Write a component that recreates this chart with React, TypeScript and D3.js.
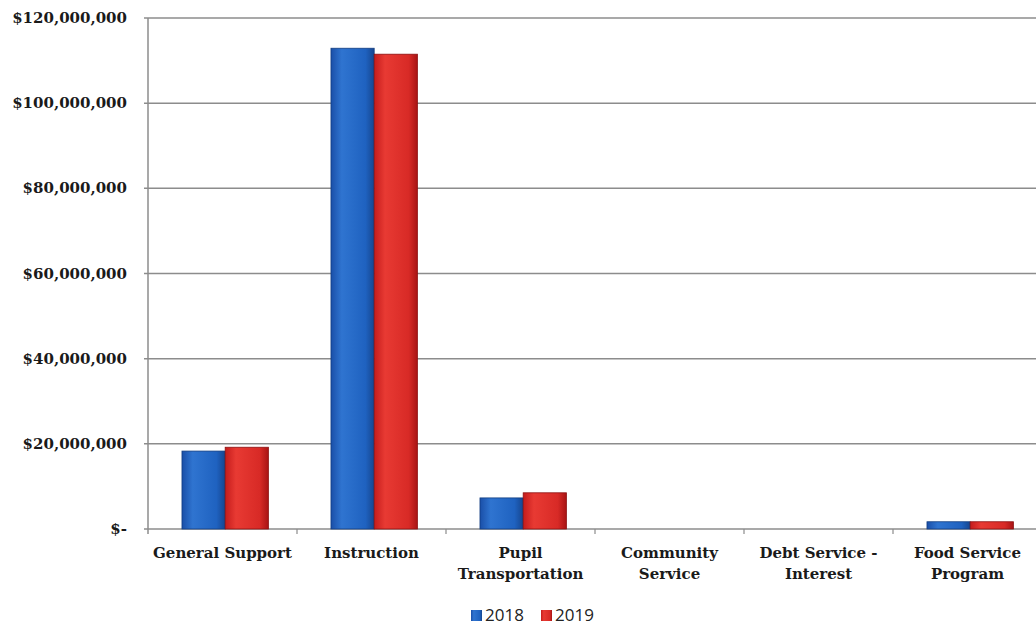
import React from "react";
import * as d3 from "d3";

const categories: string[][] = [
  ["General Support"],
  ["Instruction"],
  ["Pupil", "Transportation"],
  ["Community", "Service"],
  ["Debt Service -", "Interest"],
  ["Food Service", "Program"],
];
const seriesNames = ["2018", "2019"];
const values2018 = [18300000, 112900000, 7300000, 0, 0, 1700000];
const values2019 = [19200000, 111500000, 8500000, 0, 0, 1700000];
const yTicks = [0, 20000000, 40000000, 60000000, 80000000, 100000000, 120000000];

const W = 1036;
const H = 626;
const left = 148;
const right = 1042;
const top = 18;
const bottom = 529;

export default function App() {
  const keys = categories.map((c) => c.join(" "));
  const x0 = d3.scaleBand<string>().domain(keys).range([left, right]).padding(0);
  const bw = x0.bandwidth();
  const x1 = d3.scaleBand<string>().domain(seriesNames).range([bw * 0.228, bw * 0.808]).padding(0);
  const y = d3.scaleLinear().domain([0, 120000000]).range([bottom, top]);
  const fmt = (v: number) => (v === 0 ? "$-" : "$" + d3.format(",")(v));
  const serif = "'DejaVu Serif', serif";
  const fills = ["url(#gBlue)", "url(#gRed)"];
  const data = [values2018, values2019];

  return (
    <div style={{ position: "absolute", left: 0, top: 0 }}>
      <svg width={W} height={H} style={{ display: "block", background: "#fff" }}>
        <defs>
          <linearGradient id="gBlue" x1="0" x2="1" y1="0" y2="0">
            <stop offset="0" stopColor="#1a4fa8" />
            <stop offset="0.25" stopColor="#2f74d0" />
            <stop offset="0.8" stopColor="#1f62c0" />
            <stop offset="1" stopColor="#16468f" />
          </linearGradient>
          <linearGradient id="gRed" x1="0" x2="1" y1="0" y2="0">
            <stop offset="0" stopColor="#c41c1c" />
            <stop offset="0.25" stopColor="#e83a33" />
            <stop offset="0.8" stopColor="#d82a26" />
            <stop offset="1" stopColor="#a81414" />
          </linearGradient>
        </defs>
        {yTicks.map((t) => (
          <g key={t}>
            <line x1={left - 4} x2={right} y1={y(t)} y2={y(t)} stroke="#8c8c8c" strokeWidth={1.5} />
            <text
              x={127}
              y={y(t) + 5}
              textAnchor="end"
              fontFamily={serif}
              fontWeight="bold"
              fontSize={15}
              fill="#1a1a1a"
            >
              {fmt(t)}
            </text>
          </g>
        ))}
        <line x1={left} x2={left} y1={top} y2={bottom + 5} stroke="#8c8c8c" strokeWidth={1.5} />
        {keys.map((k, i) => (
          <line key={"tk" + i} x1={x0(k)! + bw} x2={x0(k)! + bw} y1={bottom} y2={bottom + 5} stroke="#8c8c8c" strokeWidth={1.2} />
        ))}
        {keys.map((k, i) =>
          seriesNames.map((s, j) => {
            const v = data[j][i];
            if (v <= 0) return null;
            const bx = x0(k)! + x1(s)!;
            const by = y(v);
            return (
              <rect
                key={k + s}
                x={bx}
                y={by}
                width={x1.bandwidth()}
                height={bottom - by}
                fill={fills[j]}
                stroke={j === 0 ? "#123d80" : "#8c1010"}
                strokeWidth={0.8}
              />
            );
          })
        )}
        {categories.map((lines, i) => (
          <text
            key={"c" + i}
            x={x0(keys[i])! + bw / 2}
            y={558}
            textAnchor="middle"
            fontFamily={serif}
            fontWeight="bold"
            fontSize={15}
            fill="#1a1a1a"
          >
            {lines.map((l, li) => (
              <tspan key={li} x={x0(keys[i])! + bw / 2} dy={li === 0 ? 0 : 21}>
                {l}
              </tspan>
            ))}
          </text>
        ))}
        <g fontFamily="'Open Sans', 'DejaVu Sans', sans-serif" fontSize={17} fill="#222">
          <rect x={471} y={610} width={11} height={11} fill="url(#gBlue)" />
          <text x={485} y={621}>2018</text>
          <rect x={541} y={610} width={11} height={11} fill="url(#gRed)" />
          <text x={555} y={621}>2019</text>
        </g>
      </svg>
    </div>
  );
}
